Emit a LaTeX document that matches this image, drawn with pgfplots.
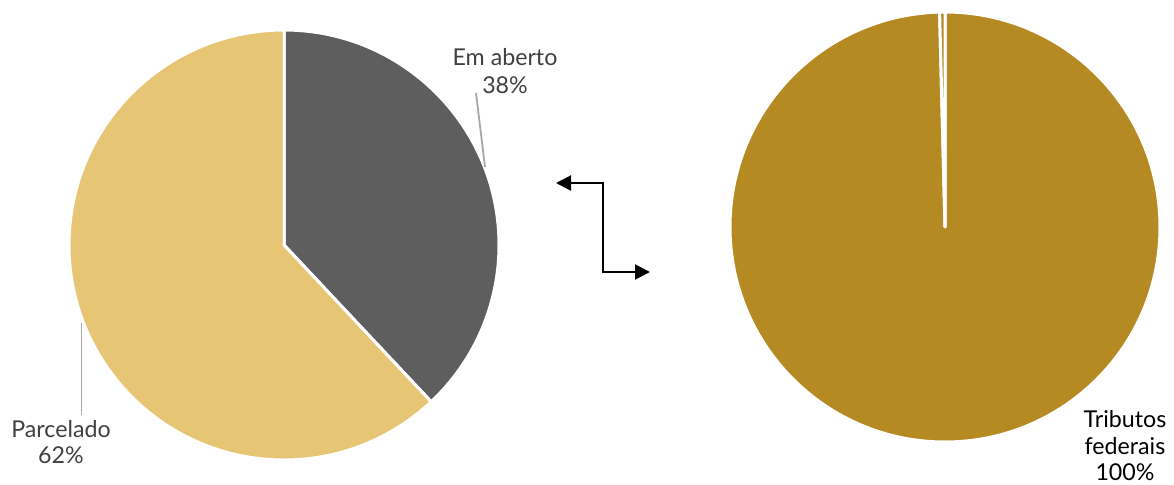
\documentclass[border=0pt]{standalone}
\usepackage{pgfplots}
\usepackage{pgfplotstable}
\pgfplotsset{compat=1.18}
\usetikzlibrary{arrows.meta}
\usepackage{fontspec}
\setmainfont{Lato}

\definecolor{emaberto}{HTML}{5E5E5E}
\definecolor{parcelado}{HTML}{E6C574}
\definecolor{federais}{HTML}{B58A22}
\definecolor{outros}{HTML}{B58A22}
\definecolor{lbl}{HTML}{404040}
\definecolor{leader}{HTML}{A6A6A6}

% shares in percent
\pgfplotstableread{
label      value
EmAberto   38
Parcelado  62
}\leftpie
\pgfplotstableread{
label      value
Federais   99.6
Outros     0.4
}\rightpie

% slice angles, clockwise from 12 o'clock
\pgfplotstablegetelem{0}{value}\of\leftpie
\pgfmathsetmacro\lA{90-3.6*\pgfplotsretval}
\pgfplotstablegetelem{1}{value}\of\leftpie
\pgfmathsetmacro\lB{\lA-3.6*\pgfplotsretval}
\pgfplotstablegetelem{0}{value}\of\rightpie
\pgfmathsetmacro\rA{90-3.6*\pgfplotsretval}
\pgfplotstablegetelem{1}{value}\of\rightpie
\pgfmathsetmacro\rB{\rA-3.6*\pgfplotsretval}
\def\R{107.5pt}

\tikzset{lab/.style={anchor=base, inner sep=0pt, font=\fontsize{11.6}{14}\selectfont}}

\begin{document}
\begin{tikzpicture}
\begin{axis}[
    x=0.5pt, y=0.5pt,
    xmin=0, xmax=1174, ymin=0, ymax=483,
    hide axis, clip=false,
]
\path (axis cs:0,0) rectangle (axis cs:1174,483);

% left pie
\filldraw[fill=emaberto, draw=white, line width=1.5pt, line join=round]
    (axis cs:284,238) -- ++(90:\R) arc[start angle=90, end angle=\lA, radius=\R] -- cycle;
\filldraw[fill=parcelado, draw=white, line width=1.5pt, line join=round]
    (axis cs:284,238) -- ++(\lA:\R) arc[start angle=\lA, end angle=\lB, radius=\R] -- cycle;

% right pie
\filldraw[fill=federais, draw=white, line width=1.5pt, line join=round]
    (axis cs:945,256) -- ++(90:\R) arc[start angle=90, end angle=\rA, radius=\R] -- cycle;
\filldraw[fill=outros, draw=white, line width=1.5pt, line join=round]
    (axis cs:945,256) -- ++(\rA:\R) arc[start angle=\rA, end angle=\rB, radius=\R] -- cycle;

% leader lines
\draw[leader, line width=0.9pt] (axis cs:476,390) -- (axis cs:485,316);
\draw[leader, line width=0.9pt] (axis cs:81.5,160) -- (axis cs:81.5,68);

% labels
\node[lab, lbl] at (axis cs:505,418) {Em aberto};
\node[lab, lbl] at (axis cs:505,390) {38\%};
\node[lab, lbl] at (axis cs:61,46) {Parcelado};
\node[lab, lbl] at (axis cs:61,20) {62\%};
\node[lab, black] at (axis cs:1125,56) {Tributos};
\node[lab, black] at (axis cs:1125,29) {federais};
\node[lab, black] at (axis cs:1125,3) {100\%};

% connector arrow
\draw[line width=1pt,
    {Triangle[length=7.5pt,width=7.5pt]}-{Triangle[length=7.5pt,width=7.5pt]}]
    (axis cs:556,300) -- (axis cs:603,300) -- (axis cs:603,211) -- (axis cs:650,211);
\end{axis}
\end{tikzpicture}
\end{document}
